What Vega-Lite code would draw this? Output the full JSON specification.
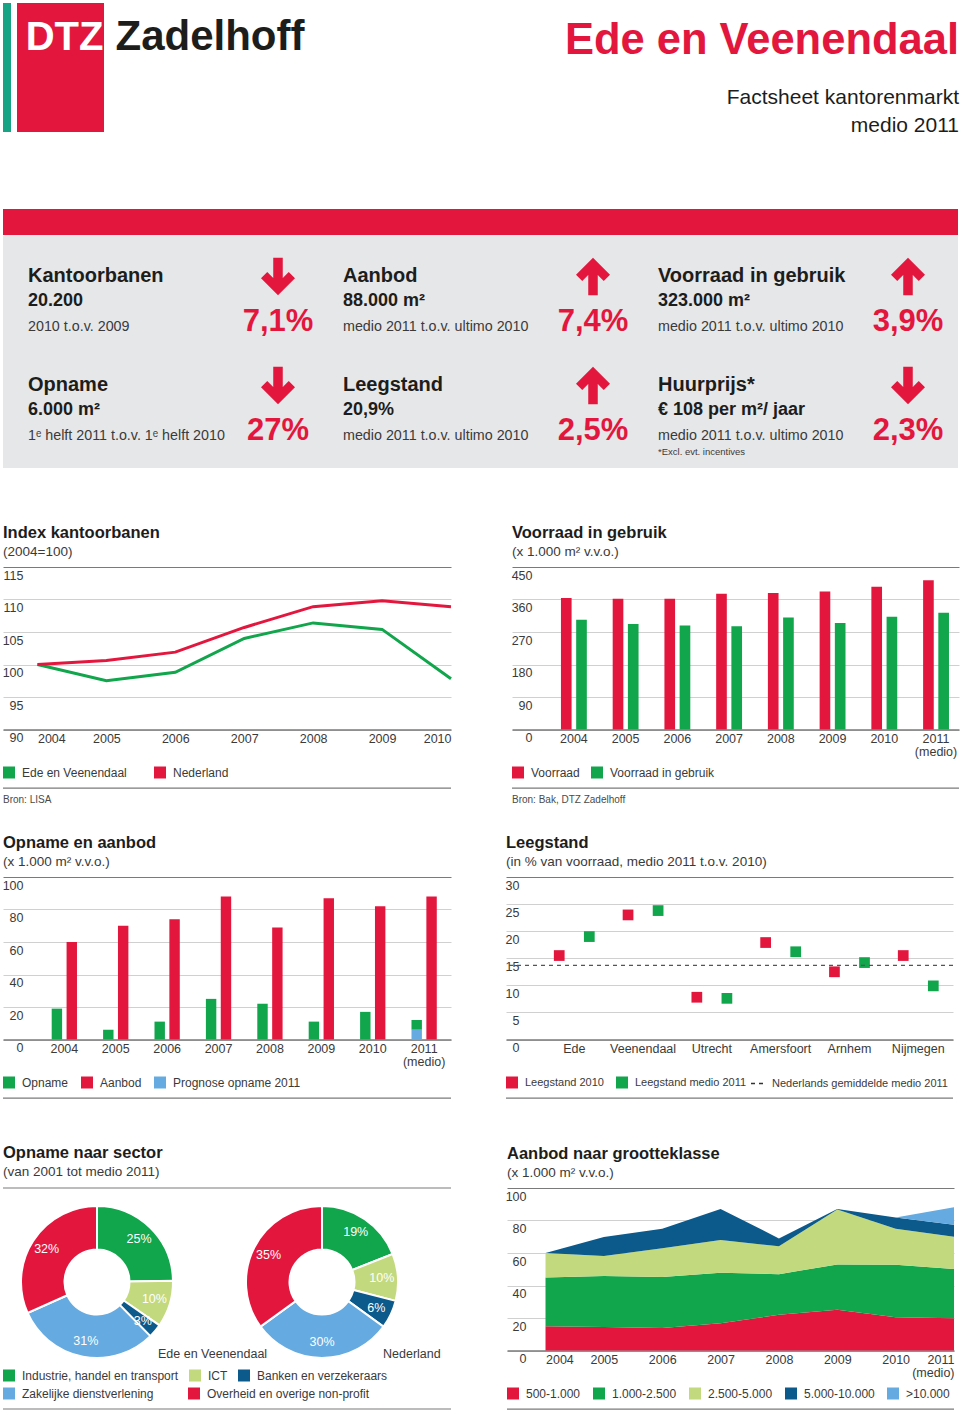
{
  "$schema": "https://vega.github.io/schema/vega-lite/v6.json",
  "background": "#ffffff",
  "padding": {"left": 2, "top": 3, "right": 0, "bottom": 0},
  "spacing": 0,
  "resolve": {"scale": {"color": "independent", "fill": "independent", "strokeDash": "independent", "shape": "independent", "xOffset": "independent", "theta": "independent"}, "legend": {"color": "independent", "fill": "independent", "strokeDash": "independent", "shape": "independent"}},
  "config": {
    "font": "Liberation Sans",
    "view": {"stroke": null},
    "title": {"anchor": "start", "frame": "group", "fontSize": 16.5, "fontWeight": "bold", "color": "#1d1d1b", "subtitleFontSize": 13.5, "subtitleColor": "#3a3a3a", "subtitlePadding": 3, "offset": 9},
    "axis": {"labelFontSize": 12.5, "labelColor": "#3a3a3a", "ticks": false, "tickSize": 0, "domain": false, "labelOverlap": false, "gridColor": "#d0d0d0", "gridWidth": 1, "tickCount": 30},
    "axisX": {"domain": true, "domainColor": "#7a7a7a", "domainWidth": 1.5, "labelPadding": 3, "labelAngle": 0, "grid": false, "labelLineHeight": 13},
    "axisY": {"labelAlign": "right", "labelBaseline": "top", "labelPadding": -20, "labelOffset": 2, "grid": true},
    "legend": {"orient": "none", "direction": "horizontal", "symbolType": "square", "symbolSize": 144, "symbolStrokeWidth": 0, "labelFontSize": 12, "labelColor": "#3a3a3a", "labelOffset": 7, "columnPadding": 12, "padding": 0, "labelLimit": 400, "legendX": 0, "legendY": 199.5}
  },
  "vconcat": [
    {
      "spacing": 6,
      "resolve": {"scale": {"color": "independent", "fill": "independent", "strokeDash": "independent", "shape": "independent", "xOffset": "independent", "theta": "independent"}},
      "hconcat": [
        {"width": 8, "height": 129, "view": {"fill": "#18a384", "stroke": null}, "data": {"values": [{"t": ""}]}, "mark": {"type": "text"}, "encoding": {"text": {"field": "t"}}},
        {"width": 87, "height": 129, "view": {"fill": "#e3173e", "stroke": null},
         "data": {"values": [{"t": "DTZ"}]},
         "mark": {"type": "text", "fontWeight": "bold", "fontSize": 40, "color": "#ffffff", "align": "center", "baseline": "alphabetic", "dx": 4, "dy": -17.5},
         "encoding": {"text": {"field": "t"}}},
        {"width": 200, "height": 129,
         "data": {"values": [{"t": "Zadelhoff"}]},
         "mark": {"type": "text", "fontWeight": "bold", "fontSize": 42, "color": "#1d1d1b", "align": "center", "baseline": "alphabetic", "dx": 0, "dy": -17.5},
         "encoding": {"text": {"field": "t"}}},
        {"width": 643, "height": 129,
         "data": {"values": [{"t": "Ede en Veenendaal", "r": "titel"}, {"t": "Factsheet kantorenmarkt", "r": "sub1"}, {"t": "medio 2011", "r": "sub2"}]},
         "layer": [
           {"transform": [{"filter": "datum.r == 'titel'"}],
            "mark": {"type": "text", "align": "right", "baseline": "alphabetic", "dx": 321.5, "dy": -13.5, "fontSize": 43.5, "fontWeight": "bold", "color": "#e3173e"},
            "encoding": {"text": {"field": "t"}}},
           {"transform": [{"filter": "datum.r == 'sub1'"}],
            "mark": {"type": "text", "align": "right", "baseline": "alphabetic", "dx": 321.5, "dy": 36.5, "fontSize": 21, "color": "#1d1d1b"},
            "encoding": {"text": {"field": "t"}}},
           {"transform": [{"filter": "datum.r == 'sub2'"}],
            "mark": {"type": "text", "align": "right", "baseline": "alphabetic", "dx": 321.5, "dy": 64.5, "fontSize": 21, "color": "#1d1d1b"},
            "encoding": {"text": {"field": "t"}}}
         ]}
      ]
    },
    {"width": 10, "height": 73, "data": {"values": [{"t": ""}]}, "mark": {"type": "text"}, "encoding": {"text": {"field": "t"}}},
    {"width": 955, "height": 26, "view": {"fill": "#e3173e", "stroke": null}, "data": {"values": [{"t": ""}]}, "mark": {"type": "text"}, "encoding": {"text": {"field": "t"}}},
    {
      "width": 955, "height": 233,
      "view": {"fill": "#e6e7e9", "stroke": null},
      "data": {"values": [
        {"kolom": 1, "rij": 1, "naam": "Kantoorbanen", "waarde": "20.200", "periode": "2010 t.o.v. 2009", "verandering": "7,1%", "richting": "omlaag"},
        {"kolom": 2, "rij": 1, "naam": "Aanbod", "waarde": "88.000 m²", "periode": "medio 2011 t.o.v. ultimo 2010", "verandering": "7,4%", "richting": "omhoog"},
        {"kolom": 3, "rij": 1, "naam": "Voorraad in gebruik", "waarde": "323.000 m²", "periode": "medio 2011 t.o.v. ultimo 2010", "verandering": "3,9%", "richting": "omhoog"},
        {"kolom": 1, "rij": 2, "naam": "Opname", "waarde": "6.000 m²", "periode": "1ᵉ helft 2011 t.o.v. 1ᵉ helft 2010", "verandering": "27%", "richting": "omlaag"},
        {"kolom": 2, "rij": 2, "naam": "Leegstand", "waarde": "20,9%", "periode": "medio 2011 t.o.v. ultimo 2010", "verandering": "2,5%", "richting": "omhoog"},
        {"kolom": 3, "rij": 2, "naam": "Huurprijs*", "waarde": "€ 108 per m²/ jaar", "periode": "medio 2011 t.o.v. ultimo 2010", "verandering": "2,3%", "richting": "omlaag", "noot": "*Excl. evt. incentives"}
      ]},
      "encoding": {
        "x": {"field": "kolom", "type": "ordinal", "scale": {"type": "point", "domain": [1, 2, 3], "range": [275, 905], "padding": 0}, "axis": null},
        "y": {"field": "rij", "type": "ordinal", "scale": {"type": "point", "domain": [1, 2], "range": [47.3, 156.3], "padding": 0}, "axis": null}
      },
      "layer": [
        {"mark": {"type": "text", "align": "left", "baseline": "alphabetic", "dx": -250, "fontSize": 20, "fontWeight": "bold", "color": "#1d1d1b"}, "encoding": {"text": {"field": "naam"}}},
        {"mark": {"type": "text", "align": "left", "baseline": "alphabetic", "dx": -250, "dy": 23.5, "fontSize": 18, "fontWeight": "bold", "color": "#1d1d1b"}, "encoding": {"text": {"field": "waarde"}}},
        {"mark": {"type": "text", "align": "left", "baseline": "alphabetic", "dx": -250, "dy": 48.3, "fontSize": 14.3, "color": "#3a3a3a"}, "encoding": {"text": {"field": "periode"}}},
        {"mark": {"type": "text", "align": "center", "baseline": "alphabetic", "dy": 48.3, "fontSize": 31, "fontWeight": "bold", "color": "#e3173e"}, "encoding": {"text": {"field": "verandering"}}},
        {"transform": [{"filter": "datum.noot"}], "mark": {"type": "text", "align": "left", "baseline": "alphabetic", "dx": -250, "dy": 63.7, "fontSize": 9.5, "color": "#3a3a3a"}, "encoding": {"text": {"field": "noot"}}},
        {"mark": {"type": "point", "filled": true, "size": 1156, "color": "#e3173e", "strokeWidth": 0, "opacity": 1},
         "encoding": {"shape": {"field": "richting", "type": "nominal", "scale": {"domain": ["omlaag", "omhoog"], "range": ["M-0.28,-1.44L0.28,-1.44L0.28,-0.255L0.632,-0.608L1,-0.24L0,0.76L-1,-0.24L-0.632,-0.608L-0.28,-0.255Z", "M-0.28,0.76L0.28,0.76L0.28,-0.425L0.632,-0.072L1,-0.44L0,-1.44L-1,-0.44L-0.632,-0.072L-0.28,-0.425Z"]}, "legend": null}}}
      ]
    },
    {"width": 10, "height": 56.7, "data": {"values": [{"t": ""}]}, "mark": {"type": "text"}, "encoding": {"text": {"field": "t"}}},
    {
      "spacing": 54,
      "resolve": {"scale": {"color": "independent", "fill": "independent", "strokeDash": "independent", "shape": "independent", "xOffset": "independent", "theta": "independent"}, "legend": {"color": "independent", "fill": "independent", "strokeDash": "independent"}},
      "hconcat": [
        {
          "width": 448, "height": 162.5,
          "title": {"text": "Index kantoorbanen", "subtitle": "(2004=100)"},
          "layer": [
            {
              "data": {"values": [
                {"jaar": 2004, "reeks": "Ede en Veenendaal", "index": 100},
                {"jaar": 2005, "reeks": "Ede en Veenendaal", "index": 97.5},
                {"jaar": 2006, "reeks": "Ede en Veenendaal", "index": 98.8},
                {"jaar": 2007, "reeks": "Ede en Veenendaal", "index": 104.0},
                {"jaar": 2008, "reeks": "Ede en Veenendaal", "index": 106.4},
                {"jaar": 2009, "reeks": "Ede en Veenendaal", "index": 105.4},
                {"jaar": 2010, "reeks": "Ede en Veenendaal", "index": 97.8},
                {"jaar": 2004, "reeks": "Nederland", "index": 100},
                {"jaar": 2005, "reeks": "Nederland", "index": 100.6},
                {"jaar": 2006, "reeks": "Nederland", "index": 101.9},
                {"jaar": 2007, "reeks": "Nederland", "index": 105.7},
                {"jaar": 2008, "reeks": "Nederland", "index": 108.9},
                {"jaar": 2009, "reeks": "Nederland", "index": 109.8},
                {"jaar": 2010, "reeks": "Nederland", "index": 108.9}
              ]},
              "mark": {"type": "line", "strokeWidth": 3},
              "encoding": {
                "x": {"field": "jaar", "type": "quantitative", "scale": {"domain": [2003.5, 2010], "nice": false, "zero": false},
                      "axis": {"title": null, "values": [2004, 2005, 2006, 2007, 2008, 2009, 2010], "tickCount": 30, "format": "d", "labelFlush": 40}},
                "y": {"field": "index", "type": "quantitative", "scale": {"domain": [90, 115], "nice": false, "zero": false},
                      "axis": {"title": null, "values": [90, 95, 100, 105, 110, 115], "tickCount": 30, "gridColor": {"condition": {"test": "datum.value == 115", "value": "#7a7a7a"}, "value": "#d0d0d0"}}},
                "color": {"field": "reeks", "type": "nominal", "scale": {"domain": ["Ede en Veenendaal", "Nederland"], "range": ["#11a54c", "#e3173e"]},
                          "legend": {"title": null, "symbolType": "square", "symbolSize": 36, "symbolStrokeWidth": 6, "columnPadding": 18}}
              }
            },
            {
              "data": {"values": [{"scheiding": 80.97}]},
              "mark": {"type": "rule", "color": "#7a7a7a", "strokeWidth": 1.2},
              "encoding": {"y": {"field": "scheiding", "type": "quantitative"}}
            },
            {
              "data": {"values": [{"bron": "Bron: LISA", "pos": 79.1}]},
              "mark": {"type": "text", "align": "left", "baseline": "middle", "dx": -224, "fontSize": 10, "color": "#4a4a4a"},
              "encoding": {"y": {"field": "pos", "type": "quantitative"}, "text": {"field": "bron"}}
            }
          ]
        },
        {
          "width": 447, "height": 162.5,
          "title": {"text": "Voorraad in gebruik", "subtitle": "(x 1.000 m² v.v.o.)"},
          "layer": [
            {
              "data": {"values": [
                {"jaar": "2004", "reeks": "Voorraad", "waarde": 364},
                {"jaar": "2005", "reeks": "Voorraad", "waarde": 362},
                {"jaar": "2006", "reeks": "Voorraad", "waarde": 362},
                {"jaar": "2007", "reeks": "Voorraad", "waarde": 376},
                {"jaar": "2008", "reeks": "Voorraad", "waarde": 378},
                {"jaar": "2009", "reeks": "Voorraad", "waarde": 382},
                {"jaar": "2010", "reeks": "Voorraad", "waarde": 395},
                {"jaar": "2011", "reeks": "Voorraad", "waarde": 413},
                {"jaar": "2004", "reeks": "Voorraad in gebruik", "waarde": 304},
                {"jaar": "2005", "reeks": "Voorraad in gebruik", "waarde": 292},
                {"jaar": "2006", "reeks": "Voorraad in gebruik", "waarde": 288},
                {"jaar": "2007", "reeks": "Voorraad in gebruik", "waarde": 286},
                {"jaar": "2008", "reeks": "Voorraad in gebruik", "waarde": 310},
                {"jaar": "2009", "reeks": "Voorraad in gebruik", "waarde": 295},
                {"jaar": "2010", "reeks": "Voorraad in gebruik", "waarde": 312},
                {"jaar": "2011", "reeks": "Voorraad in gebruik", "waarde": 323}
              ]},
              "mark": {"type": "bar"},
              "encoding": {
                "x": {"field": "jaar", "type": "ordinal", "scale": {"type": "band", "paddingInner": 0.5, "paddingOuter": 0.57, "align": 0.83},
                      "axis": {"title": null, "labelExpr": "datum.value == '2011' ? ['2011', '(medio)'] : datum.label"}},
                "xOffset": {"field": "reeks", "type": "nominal", "scale": {"domain": ["Voorraad", "Voorraad in gebruik"], "paddingInner": 0.3, "paddingOuter": 0}},
                "y": {"field": "waarde", "type": "quantitative", "scale": {"domain": [0, 450], "nice": false},
                      "axis": {"title": null, "values": [0, 90, 180, 270, 360, 450], "tickCount": 30, "gridColor": {"condition": {"test": "datum.value == 450", "value": "#7a7a7a"}, "value": "#d0d0d0"}}},
                "color": {"field": "reeks", "type": "nominal", "scale": {"domain": ["Voorraad", "Voorraad in gebruik"], "range": ["#e3173e", "#11a54c"]},
                          "legend": {"title": null, "columnPadding": 11}}
              }
            },
            {
              "data": {"values": [{"scheiding": -162.5}]},
              "mark": {"type": "rule", "color": "#7a7a7a", "strokeWidth": 1.2},
              "encoding": {"y": {"field": "scheiding", "type": "quantitative"}}
            },
            {
              "data": {"values": [{"bron": "Bron: Bak, DTZ Zadelhoff", "pos": -196.6}]},
              "mark": {"type": "text", "align": "left", "baseline": "middle", "dx": -223.5, "fontSize": 10, "color": "#4a4a4a"},
              "encoding": {"y": {"field": "pos", "type": "quantitative"}, "text": {"field": "bron"}}
            }
          ]
        }
      ]
    },
    {"width": 10, "height": 28.5, "data": {"values": [{"t": ""}]}, "mark": {"type": "text"}, "encoding": {"text": {"field": "t"}}},
    {
      "spacing": 53,
      "resolve": {"scale": {"color": "independent", "fill": "independent", "strokeDash": "independent", "shape": "independent", "xOffset": "independent", "theta": "independent"}, "legend": {"color": "independent", "fill": "independent", "strokeDash": "independent"}},
      "hconcat": [
        {
          "width": 448, "height": 162.5,
          "title": {"text": "Opname en aanbod", "subtitle": "(x 1.000 m² v.v.o.)"},
          "layer": [
            {
              "data": {"values": [
                {"jaar": "2004", "groep": "Opname", "reeks": "Opname", "waarde": 19},
                {"jaar": "2005", "groep": "Opname", "reeks": "Opname", "waarde": 6},
                {"jaar": "2006", "groep": "Opname", "reeks": "Opname", "waarde": 11},
                {"jaar": "2007", "groep": "Opname", "reeks": "Opname", "waarde": 25},
                {"jaar": "2008", "groep": "Opname", "reeks": "Opname", "waarde": 22},
                {"jaar": "2009", "groep": "Opname", "reeks": "Opname", "waarde": 11},
                {"jaar": "2010", "groep": "Opname", "reeks": "Opname", "waarde": 17},
                {"jaar": "2011", "groep": "Opname", "reeks": "Opname", "waarde": 6},
                {"jaar": "2011", "groep": "Opname", "reeks": "Prognose opname 2011", "waarde": 6},
                {"jaar": "2004", "groep": "Aanbod", "reeks": "Aanbod", "waarde": 60},
                {"jaar": "2005", "groep": "Aanbod", "reeks": "Aanbod", "waarde": 70},
                {"jaar": "2006", "groep": "Aanbod", "reeks": "Aanbod", "waarde": 74},
                {"jaar": "2007", "groep": "Aanbod", "reeks": "Aanbod", "waarde": 88},
                {"jaar": "2008", "groep": "Aanbod", "reeks": "Aanbod", "waarde": 69},
                {"jaar": "2009", "groep": "Aanbod", "reeks": "Aanbod", "waarde": 87},
                {"jaar": "2010", "groep": "Aanbod", "reeks": "Aanbod", "waarde": 82},
                {"jaar": "2011", "groep": "Aanbod", "reeks": "Aanbod", "waarde": 88}
              ]},
              "mark": {"type": "bar"},
              "encoding": {
                "x": {"field": "jaar", "type": "ordinal", "scale": {"type": "band", "paddingInner": 0.508, "paddingOuter": 0.612, "align": 0.774},
                      "axis": {"title": null, "labelExpr": "datum.value == '2011' ? ['2011', '(medio)'] : datum.label"}},
                "xOffset": {"field": "groep", "type": "nominal", "scale": {"domain": ["Opname", "Aanbod"], "paddingInner": 0.3, "paddingOuter": 0}},
                "y": {"field": "waarde", "type": "quantitative", "stack": "zero", "scale": {"domain": [0, 100], "nice": false},
                      "axis": {"title": null, "values": [0, 20, 40, 60, 80, 100], "tickCount": 30, "gridColor": {"condition": {"test": "datum.value == 100", "value": "#7a7a7a"}, "value": "#d0d0d0"}}},
                "color": {"field": "reeks", "type": "nominal", "scale": {"domain": ["Opname", "Aanbod", "Prognose opname 2011"], "range": ["#11a54c", "#e3173e", "#65aae0"]},
                          "legend": {"title": null, "columnPadding": 12}}
              }
            },
            {
              "data": {"values": [{"scheiding": -36.12}]},
              "mark": {"type": "rule", "color": "#7a7a7a", "strokeWidth": 1.2},
              "encoding": {"y": {"field": "scheiding", "type": "quantitative"}}
            }
          ]
        },
        {
          "width": 447, "height": 162.5,
          "title": {"text": "Leegstand", "subtitle": "(in % van voorraad, medio 2011 t.o.v. 2010)"},
          "layer": [
            {
              "data": {"values": [
                {"stad": "Ede", "reeks": "Leegstand 2010", "pct": 15.5},
                {"stad": "Veenendaal", "reeks": "Leegstand 2010", "pct": 23.0},
                {"stad": "Utrecht", "reeks": "Leegstand 2010", "pct": 7.8},
                {"stad": "Amersfoort", "reeks": "Leegstand 2010", "pct": 17.9},
                {"stad": "Arnhem", "reeks": "Leegstand 2010", "pct": 12.5},
                {"stad": "Nijmegen", "reeks": "Leegstand 2010", "pct": 15.5},
                {"stad": "Ede", "reeks": "Leegstand medio 2011", "pct": 19.0},
                {"stad": "Veenendaal", "reeks": "Leegstand medio 2011", "pct": 23.8},
                {"stad": "Utrecht", "reeks": "Leegstand medio 2011", "pct": 7.6},
                {"stad": "Amersfoort", "reeks": "Leegstand medio 2011", "pct": 16.2},
                {"stad": "Arnhem", "reeks": "Leegstand medio 2011", "pct": 14.2},
                {"stad": "Nijmegen", "reeks": "Leegstand medio 2011", "pct": 9.9}
              ]},
              "mark": {"type": "square", "size": 115, "filled": true, "opacity": 1},
              "encoding": {
                "x": {"field": "stad", "type": "nominal", "scale": {"type": "band", "domain": ["Ede", "Veenendaal", "Utrecht", "Amersfoort", "Arnhem", "Nijmegen"], "paddingInner": 0.563, "paddingOuter": 0.53, "align": 0.73},
                      "axis": {"title": null}},
                "xOffset": {"field": "reeks", "type": "nominal", "scale": {"domain": ["Leegstand 2010", "Leegstand medio 2011"], "paddingInner": 0, "paddingOuter": 0}},
                "y": {"field": "pct", "type": "quantitative", "scale": {"domain": [0, 30], "nice": false},
                      "axis": {"title": null, "values": [0, 5, 10, 15, 20, 25, 30], "tickCount": 30, "labelPadding": -13, "gridColor": {"condition": {"test": "datum.value == 30", "value": "#7a7a7a"}, "value": "#d0d0d0"}}},
                "color": {"field": "reeks", "type": "nominal", "scale": {"domain": ["Leegstand 2010", "Leegstand medio 2011"], "range": ["#e3173e", "#11a54c"]},
                          "legend": {"title": null, "columnPadding": 12, "labelFontSize": 11}}
              }
            },
            {
              "data": {"values": [{"gemiddelde": 13.7, "reeks2": "Nederlands gemiddelde medio 2011"}]},
              "mark": {"type": "rule", "color": "#555555", "strokeWidth": 1.3},
              "encoding": {
                "y": {"field": "gemiddelde", "type": "quantitative"},
                "strokeDash": {"field": "reeks2", "type": "nominal", "scale": {"range": [[4, 4]]},
                               "legend": {"title": null, "symbolType": "stroke", "symbolSize": 144, "symbolStrokeWidth": 1.5, "symbolStrokeColor": "#333333", "legendX": 244, "labelOffset": 8, "labelFontSize": 11}}
              }
            },
            {
              "data": {"values": [{"scheiding": -10.84}]},
              "mark": {"type": "rule", "color": "#7a7a7a", "strokeWidth": 1.2},
              "encoding": {"y": {"field": "scheiding", "type": "quantitative"}}
            }
          ]
        }
      ]
    },
    {"width": 10, "height": 46, "data": {"values": [{"t": ""}]}, "mark": {"type": "text"}, "encoding": {"text": {"field": "t"}}},
    {
      "spacing": 53,
      "resolve": {"scale": {"color": "independent", "fill": "independent", "strokeDash": "independent", "shape": "independent", "xOffset": "independent", "theta": "independent"}, "legend": {"color": "independent", "fill": "independent", "strokeDash": "independent"}},
      "hconcat": [
        {
          "width": 448, "height": 188,
          "title": {"text": "Opname naar sector", "subtitle": "(van 2001 tot medio 2011)"},
          "layer": [
            {
              "data": {"values": [
                {"regio": "Ede en Veenendaal", "sector": "Industrie, handel en transport", "aandeel": 25, "label": "25%", "o": 1},
                {"regio": "Ede en Veenendaal", "sector": "ICT", "aandeel": 10, "label": "10%", "o": 2},
                {"regio": "Ede en Veenendaal", "sector": "Banken en verzekeraars", "aandeel": 3, "label": "3%", "o": 3},
                {"regio": "Ede en Veenendaal", "sector": "Zakelijke dienstverlening", "aandeel": 31, "label": "31%", "o": 4},
                {"regio": "Ede en Veenendaal", "sector": "Overheid en overige non-profit", "aandeel": 32, "label": "32%", "o": 5}
              ]},
              "mark": {"type": "arc", "innerRadius": 32.5, "outerRadius": 76, "stroke": "#ffffff", "strokeWidth": 2},
              "encoding": {
                "x": {"field": "regio", "type": "nominal", "scale": {"type": "point", "domain": ["Ede en Veenendaal", "Nederland"], "range": [94, 319], "padding": 0}, "axis": null},
                "theta": {"field": "aandeel", "type": "quantitative", "stack": true},
                "order": {"field": "o", "type": "quantitative"},
                "color": {"field": "sector", "type": "nominal",
                          "scale": {"domain": ["Industrie, handel en transport", "ICT", "Banken en verzekeraars", "Zakelijke dienstverlening", "Overheid en overige non-profit"], "range": ["#11a54c", "#c3d97d", "#0b5a8b", "#65aae0", "#e3173e"]},
                          "legend": {"title": null, "values": ["Industrie, handel en transport", "ICT", "Banken en verzekeraars"], "columns": 3, "legendY": 181.5, "columnPadding": 10}}
              }
            },
            {
              "data": {"values": [
                {"regio": "Ede en Veenendaal", "sector": "Industrie, handel en transport", "aandeel": 25, "label": "25%", "o": 1},
                {"regio": "Ede en Veenendaal", "sector": "ICT", "aandeel": 10, "label": "10%", "o": 2},
                {"regio": "Ede en Veenendaal", "sector": "Banken en verzekeraars", "aandeel": 3, "label": "3%", "o": 3},
                {"regio": "Ede en Veenendaal", "sector": "Zakelijke dienstverlening", "aandeel": 31, "label": "31%", "o": 4},
                {"regio": "Ede en Veenendaal", "sector": "Overheid en overige non-profit", "aandeel": 32, "label": "32%", "o": 5}
              ]},
              "mark": {"type": "text", "radius": 60, "color": "#ffffff", "fontSize": 12.5},
              "encoding": {
                "x": {"field": "regio", "type": "nominal", "scale": {"type": "point", "domain": ["Ede en Veenendaal", "Nederland"], "range": [94, 319], "padding": 0}, "axis": null},
                "theta": {"field": "aandeel", "type": "quantitative", "stack": true},
                "order": {"field": "o", "type": "quantitative"},
                "text": {"field": "label"}
              }
            },
            {
              "data": {"values": [
                {"regio": "Nederland", "sector": "Industrie, handel en transport", "aandeel": 19, "label": "19%", "o": 1},
                {"regio": "Nederland", "sector": "ICT", "aandeel": 10, "label": "10%", "o": 2},
                {"regio": "Nederland", "sector": "Banken en verzekeraars", "aandeel": 6, "label": "6%", "o": 3},
                {"regio": "Nederland", "sector": "Zakelijke dienstverlening", "aandeel": 30, "label": "30%", "o": 4},
                {"regio": "Nederland", "sector": "Overheid en overige non-profit", "aandeel": 35, "label": "35%", "o": 5}
              ]},
              "mark": {"type": "arc", "innerRadius": 32.5, "outerRadius": 76, "stroke": "#ffffff", "strokeWidth": 2},
              "encoding": {
                "x": {"field": "regio", "type": "nominal", "scale": {"type": "point", "domain": ["Ede en Veenendaal", "Nederland"], "range": [94, 319], "padding": 0}, "axis": null},
                "theta": {"field": "aandeel", "type": "quantitative", "stack": true},
                "order": {"field": "o", "type": "quantitative"},
                "color": {"field": "sector", "type": "nominal"}
              }
            },
            {
              "data": {"values": [
                {"regio": "Nederland", "sector": "Industrie, handel en transport", "aandeel": 19, "label": "19%", "o": 1},
                {"regio": "Nederland", "sector": "ICT", "aandeel": 10, "label": "10%", "o": 2},
                {"regio": "Nederland", "sector": "Banken en verzekeraars", "aandeel": 6, "label": "6%", "o": 3},
                {"regio": "Nederland", "sector": "Zakelijke dienstverlening", "aandeel": 30, "label": "30%", "o": 4},
                {"regio": "Nederland", "sector": "Overheid en overige non-profit", "aandeel": 35, "label": "35%", "o": 5}
              ]},
              "mark": {"type": "text", "radius": 60, "color": "#ffffff", "fontSize": 12.5},
              "encoding": {
                "x": {"field": "regio", "type": "nominal", "scale": {"type": "point", "domain": ["Ede en Veenendaal", "Nederland"], "range": [94, 319], "padding": 0}, "axis": null},
                "theta": {"field": "aandeel", "type": "quantitative", "stack": true},
                "order": {"field": "o", "type": "quantitative"},
                "text": {"field": "label"}
              }
            },
            {
              "data": {"values": [{"regio": "Ede en Veenendaal"}, {"regio": "Nederland"}]},
              "mark": {"type": "text", "align": "left", "baseline": "middle", "dx": 61, "dy": 71.6, "fontSize": 12.5, "color": "#3a3a3a"},
              "encoding": {
                "x": {"field": "regio", "type": "nominal", "scale": {"type": "point", "domain": ["Ede en Veenendaal", "Nederland"], "range": [94, 319], "padding": 0}, "axis": null},
                "text": {"field": "regio"}
              }
            },
            {
              "data": {"values": [{"sector": "Zakelijke dienstverlening"}, {"sector": "Overheid en overige non-profit"}]},
              "transform": [{"filter": "false"}],
              "mark": {"type": "square", "filled": true, "opacity": 1},
              "encoding": {
                "fill": {"field": "sector", "type": "nominal", "scale": {"domain": ["Zakelijke dienstverlening", "Overheid en overige non-profit"], "range": ["#65aae0", "#e3173e"]},
                         "legend": {"title": null, "legendY": 199.5, "columnPadding": 34, "symbolOpacity": 1}}
              }
            },
            {
              "data": {"values": [{"scheiding": 1}, {"scheiding": -0.1755}]},
              "mark": {"type": "rule", "color": "#7a7a7a", "strokeWidth": 1.2},
              "encoding": {"y": {"field": "scheiding", "type": "quantitative", "scale": {"domain": [0, 1], "nice": false, "zero": false}, "axis": null}}
            }
          ],
          "resolve": {"scale": {"theta": "independent"}}
        },
        {
          "width": 447, "height": 162.5,
          "title": {"text": "Aanbod naar grootteklasse", "subtitle": "(x 1.000 m² v.v.o.)"},
          "layer": [
            {
              "data": {"values": [
                {"jaar": "2004", "klasse": "500-1.000", "volg": 1, "waarde": 15},
                {"jaar": "2004", "klasse": "1.000-2.500", "volg": 2, "waarde": 30},
                {"jaar": "2004", "klasse": "2.500-5.000", "volg": 3, "waarde": 15},
                {"jaar": "2004", "klasse": "5.000-10.000", "volg": 4, "waarde": 0},
                {"jaar": "2004", "klasse": ">10.000", "volg": 5, "waarde": 0},
                {"jaar": "2005", "klasse": "500-1.000", "volg": 1, "waarde": 14.4},
                {"jaar": "2005", "klasse": "1.000-2.500", "volg": 2, "waarde": 31.4},
                {"jaar": "2005", "klasse": "2.500-5.000", "volg": 3, "waarde": 12.3},
                {"jaar": "2005", "klasse": "5.000-10.000", "volg": 4, "waarde": 11.7},
                {"jaar": "2005", "klasse": ">10.000", "volg": 5, "waarde": 0},
                {"jaar": "2006", "klasse": "500-1.000", "volg": 1, "waarde": 13.8},
                {"jaar": "2006", "klasse": "1.000-2.500", "volg": 2, "waarde": 31.4},
                {"jaar": "2006", "klasse": "2.500-5.000", "volg": 3, "waarde": 17.8},
                {"jaar": "2006", "klasse": "5.000-10.000", "volg": 4, "waarde": 11.9},
                {"jaar": "2006", "klasse": ">10.000", "volg": 5, "waarde": 0},
                {"jaar": "2007", "klasse": "500-1.000", "volg": 1, "waarde": 16.8},
                {"jaar": "2007", "klasse": "1.000-2.500", "volg": 2, "waarde": 31.0},
                {"jaar": "2007", "klasse": "2.500-5.000", "volg": 3, "waarde": 20.2},
                {"jaar": "2007", "klasse": "5.000-10.000", "volg": 4, "waarde": 19.1},
                {"jaar": "2007", "klasse": ">10.000", "volg": 5, "waarde": 0},
                {"jaar": "2008", "klasse": "500-1.000", "volg": 1, "waarde": 22.0},
                {"jaar": "2008", "klasse": "1.000-2.500", "volg": 2, "waarde": 25.0},
                {"jaar": "2008", "klasse": "2.500-5.000", "volg": 3, "waarde": 17.1},
                {"jaar": "2008", "klasse": "5.000-10.000", "volg": 4, "waarde": 4.9},
                {"jaar": "2008", "klasse": ">10.000", "volg": 5, "waarde": 0},
                {"jaar": "2009", "klasse": "500-1.000", "volg": 1, "waarde": 25.1},
                {"jaar": "2009", "klasse": "1.000-2.500", "volg": 2, "waarde": 27.9},
                {"jaar": "2009", "klasse": "2.500-5.000", "volg": 3, "waarde": 33.7},
                {"jaar": "2009", "klasse": "5.000-10.000", "volg": 4, "waarde": 0.4},
                {"jaar": "2009", "klasse": ">10.000", "volg": 5, "waarde": 0},
                {"jaar": "2010", "klasse": "500-1.000", "volg": 1, "waarde": 20.5},
                {"jaar": "2010", "klasse": "1.000-2.500", "volg": 2, "waarde": 32.3},
                {"jaar": "2010", "klasse": "2.500-5.000", "volg": 3, "waarde": 22.1},
                {"jaar": "2010", "klasse": "5.000-10.000", "volg": 4, "waarde": 7.0},
                {"jaar": "2010", "klasse": ">10.000", "volg": 5, "waarde": 0},
                {"jaar": "2011", "klasse": "500-1.000", "volg": 1, "waarde": 19.9},
                {"jaar": "2011", "klasse": "1.000-2.500", "volg": 2, "waarde": 30.2},
                {"jaar": "2011", "klasse": "2.500-5.000", "volg": 3, "waarde": 19.9},
                {"jaar": "2011", "klasse": "5.000-10.000", "volg": 4, "waarde": 7.4},
                {"jaar": "2011", "klasse": ">10.000", "volg": 5, "waarde": 10.7}
              ]},
              "mark": {"type": "area", "interpolate": "linear"},
              "encoding": {
                "x": {"field": "jaar", "type": "ordinal", "scale": {"type": "point", "padding": 0.33, "align": 1},
                      "axis": {"title": null, "labelFlush": 40, "labelExpr": "datum.value == '2011' ? ['2011', '(medio)'] : datum.label"}},
                "y": {"field": "waarde", "type": "quantitative", "stack": "zero", "scale": {"domain": [0, 100], "nice": false},
                      "axis": {"title": null, "values": [0, 20, 40, 60, 80, 100], "tickCount": 30, "labelPadding": -19, "gridColor": {"condition": {"test": "datum.value == 100", "value": "#7a7a7a"}, "value": "#d0d0d0"}}},
                "order": {"field": "volg", "type": "quantitative"},
                "color": {"field": "klasse", "type": "nominal", "scale": {"domain": ["500-1.000", "1.000-2.500", "2.500-5.000", "5.000-10.000", ">10.000"], "range": ["#e3173e", "#11a54c", "#c3d97d", "#0b5a8b", "#65aae0"]},
                          "legend": {"title": null, "columnPadding": 12}}
              }
            },
            {
              "data": {"values": [{"scheiding": -36.12}]},
              "mark": {"type": "rule", "color": "#7a7a7a", "strokeWidth": 1.2},
              "encoding": {"y": {"field": "scheiding", "type": "quantitative"}}
            }
          ]
        }
      ]
    }
  ]
}
